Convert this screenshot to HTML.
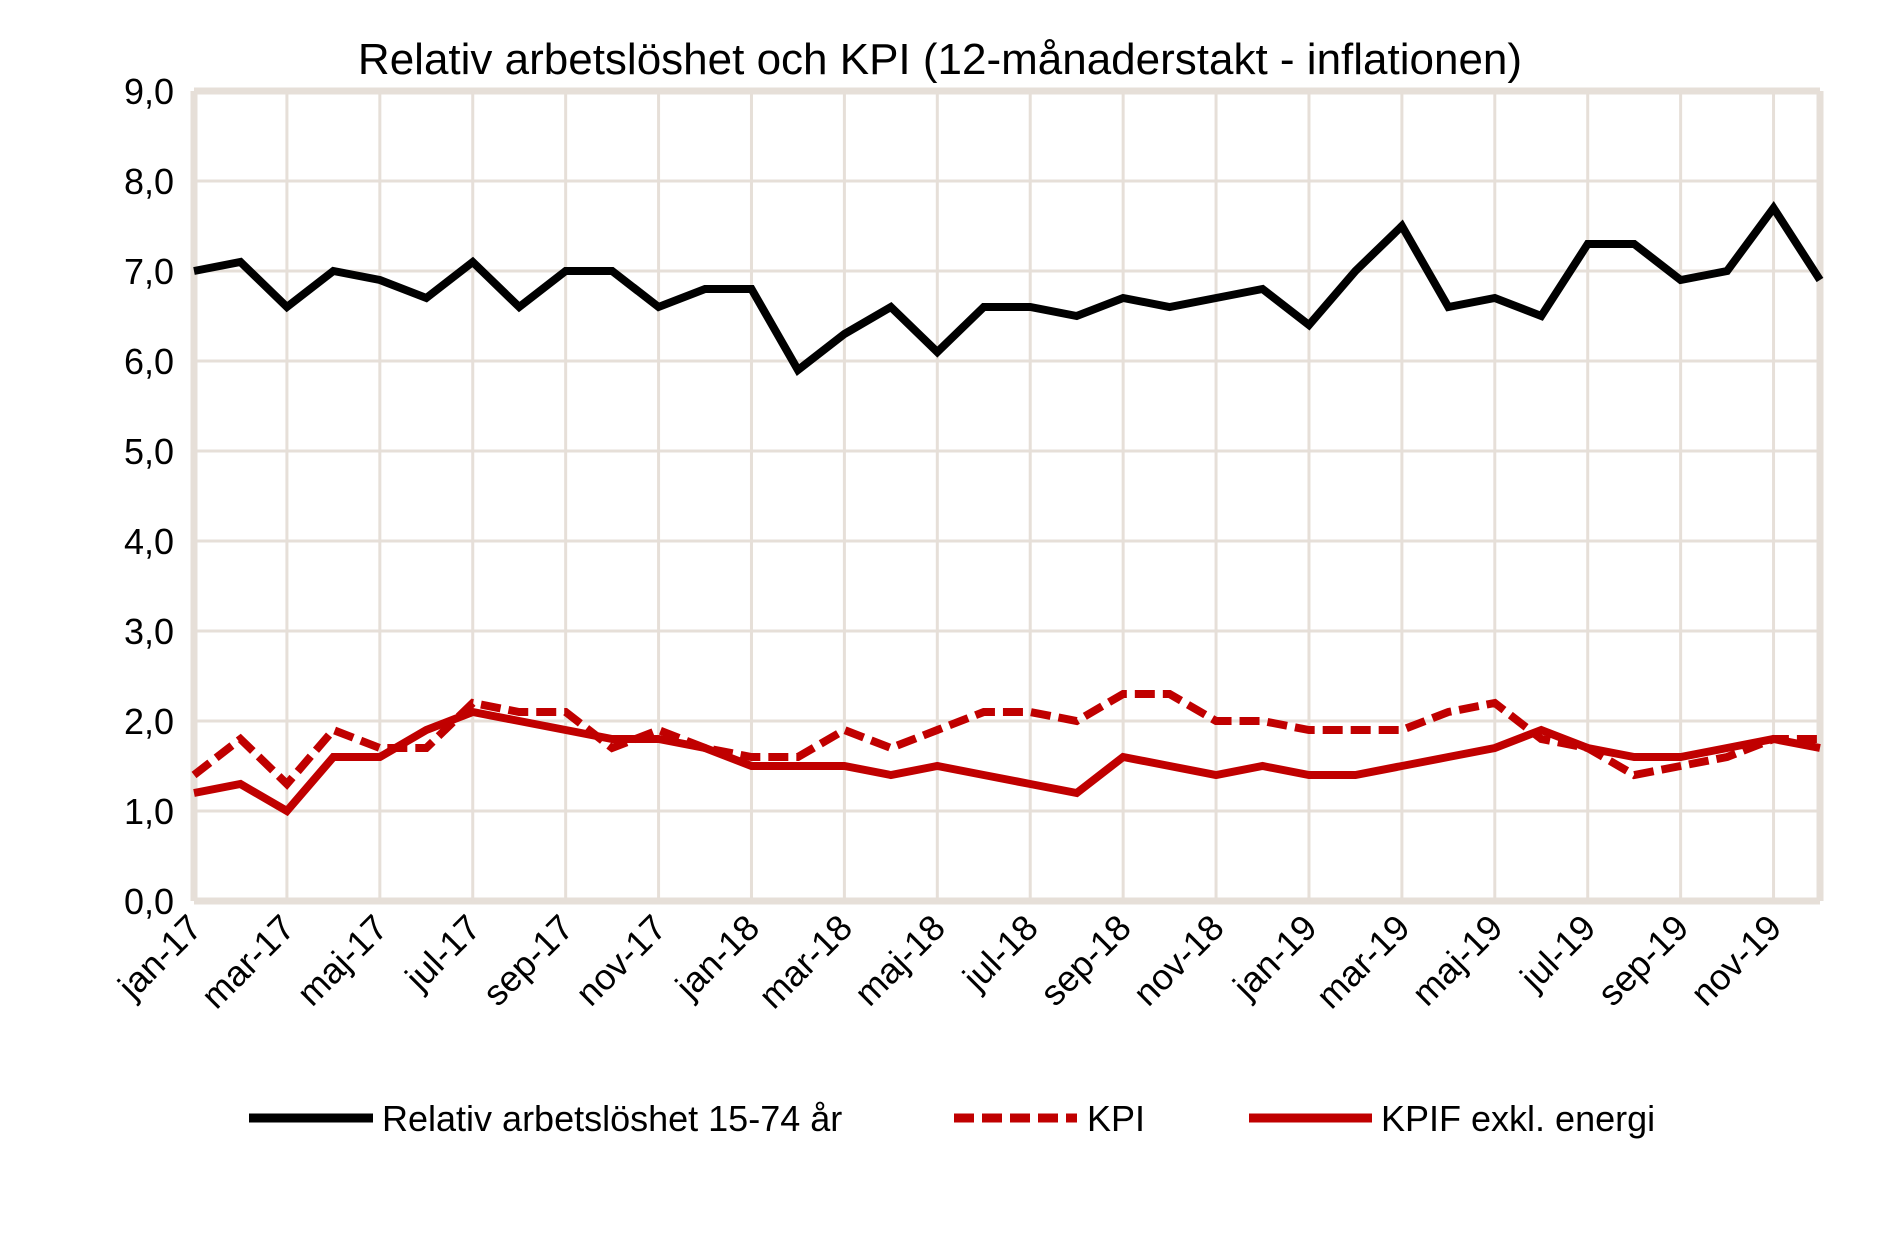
<!DOCTYPE html>
<html><head><meta charset="utf-8"><style>
body{margin:0;background:#fff}
svg{display:block;font-family:"Liberation Sans",Arial,sans-serif}
</style></head><body>
<svg id="c" width="1877" height="1237">
<text x="940" y="74" font-size="44" text-anchor="middle">Relativ arbetslöshet och KPI (12-månaderstakt - inflationen)</text>
<g id="grid"></g><g id="lines"></g><g id="labels"></g>
<g>
<g><line x1="249" y1="1118" x2="373" y2="1118" stroke="#000" stroke-width="9"/><text x="382" y="1131" font-size="36">Relativ arbetslöshet 15-74 år</text></g>
<g><line x1="954" y1="1118" x2="1077" y2="1118" stroke="#c00000" stroke-width="9" stroke-dasharray="20,8"/><text x="1087" y="1131" font-size="36">KPI</text></g>
<g><line x1="1249" y1="1118" x2="1372" y2="1118" stroke="#c00000" stroke-width="9"/><text x="1381" y="1131" font-size="36">KPIF exkl. energi</text></g>
</g>
</svg>
<script>
const months=["jan-17","feb-17","mar-17","apr-17","maj-17","jun-17","jul-17","aug-17","sep-17","okt-17","nov-17","dec-17","jan-18","feb-18","mar-18","apr-18","maj-18","jun-18","jul-18","aug-18","sep-18","okt-18","nov-18","dec-18","jan-19","feb-19","mar-19","apr-19","maj-19","jun-19","jul-19","aug-19","sep-19","okt-19","nov-19","dec-19"];
const unemployment=[7.0,7.1,6.6,7.0,6.9,6.7,7.1,6.6,7.0,7.0,6.6,6.8,6.8,5.9,6.3,6.6,6.1,6.6,6.6,6.5,6.7,6.6,6.7,6.8,6.4,7.0,7.5,6.6,6.7,6.5,7.3,7.3,6.9,7.0,7.7,6.9];
const kpi=[1.4,1.8,1.3,1.9,1.7,1.7,2.2,2.1,2.1,1.7,1.9,1.7,1.6,1.6,1.9,1.7,1.9,2.1,2.1,2.0,2.3,2.3,2.0,2.0,1.9,1.9,1.9,2.1,2.2,1.8,1.7,1.4,1.5,1.6,1.8,1.8];
const kpif=[1.2,1.3,1.0,1.6,1.6,1.9,2.1,2.0,1.9,1.8,1.8,1.7,1.5,1.5,1.5,1.4,1.5,1.4,1.3,1.2,1.6,1.5,1.4,1.5,1.4,1.4,1.5,1.6,1.7,1.9,1.7,1.6,1.6,1.7,1.8,1.7];
const yTicks=[0,1,2,3,4,5,6,7,8,9];
const L=194,R=1820,T=91,B=901,NS="http://www.w3.org/2000/svg";
const x=i=>L+i*(R-L)/(months.length-1);
const y=v=>B-v*(B-T)/9;
function mk(t,a,p){const e=document.createElementNS(NS,t);for(const k in a)e.setAttribute(k,a[k]);p.appendChild(e);return e;}
const g=document.getElementById('grid'),lab=document.getElementById('labels'),ln=document.getElementById('lines');
yTicks.forEach(v=>{
 const l=mk('line',{x1:L,x2:R,y1:y(v),y2:y(v),stroke:'#e6dfd8','stroke-width':v==0||v==9?7:3},g);
 
 
 const t=mk('text',{x:L-20,y:y(v)+13,'font-size':36,'text-anchor':'end'},lab);
 t.textContent=v.toFixed(1).replace('.',',');
 
 
});
months.forEach((m,i)=>{
 if(i%2==0||i==months.length-1){
  const l=mk('line',{x1:x(i),x2:x(i),y1:T,y2:B,stroke:'#e6dfd8','stroke-width':(i==0||i==months.length-1)?7:3},g);
  
  
 }
 if(i%2==0){
  const t=mk('text',{x:x(i)+10,y:930,'font-size':36,'text-anchor':'end',transform:`rotate(-45 ${x(i)+10} 930)`},lab);
  t.textContent=m;
  
  
 }
});
function series(d,col,dash,name){
 const p=mk('polyline',{points:d.map((v,i)=>x(i)+','+y(v)).join(' '),fill:'none',stroke:col,'stroke-width':8,'stroke-linejoin':'miter'},ln);
 if(dash)p.setAttribute('stroke-dasharray',dash);
 
 
}
series(kpi,'#c00000','20,8','kpi-line');
series(kpif,'#c00000',null,'kpif-line');
series(unemployment,'#000',null,'unemployment-line');
</script>
</body></html>
